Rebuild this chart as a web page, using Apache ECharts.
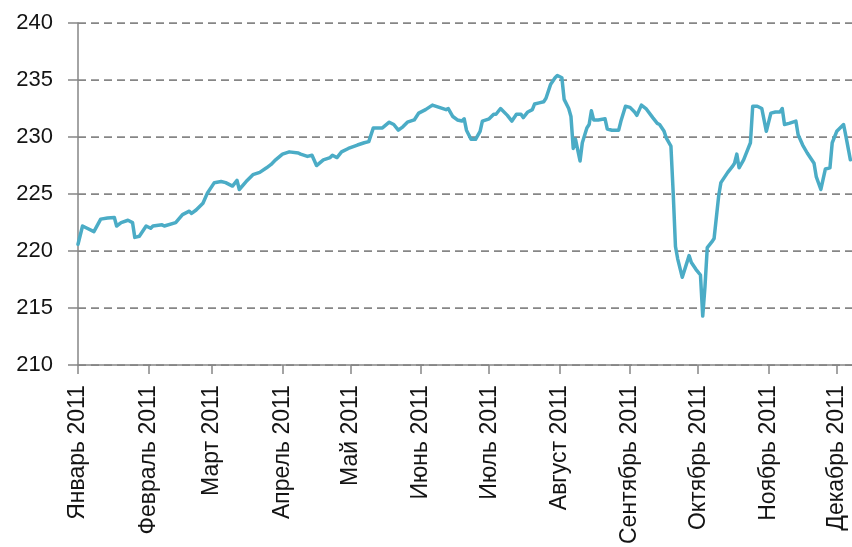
<!DOCTYPE html>
<html>
<head>
<meta charset="utf-8">
<title>2011</title>
<script src="https://cdn.jsdelivr.net/npm/echarts@6/dist/echarts.min.js"></script>
<style>
  html, body { margin: 0; padding: 0; background: #fff; }
  #chart { width: 852px; height: 547px; }
</style>
</head>
<body>
<div id="chart"></div>
<script>
// Daily closing values, 2011
const dates = [
  '2011-01-01','2011-01-03','2011-01-05','2011-01-08','2011-01-11','2011-01-14','2011-01-17','2011-01-18',
  '2011-01-20','2011-01-23','2011-01-25','2011-01-26','2011-01-28','2011-01-31','2011-02-02','2011-02-03',
  '2011-02-07','2011-02-08','2011-02-13','2011-02-16','2011-02-19','2011-02-20','2011-02-22','2011-02-25',
  '2011-02-27','2011-03-02','2011-03-05','2011-03-07','2011-03-10','2011-03-12','2011-03-13','2011-03-16',
  '2011-03-19','2011-03-22','2011-03-25','2011-03-27','2011-03-29','2011-04-01','2011-04-04','2011-04-08',
  '2011-04-09','2011-04-12','2011-04-14','2011-04-16','2011-04-19','2011-04-22','2011-04-23','2011-04-25',
  '2011-04-27','2011-04-30','2011-05-04','2011-05-07','2011-05-09','2011-05-11','2011-05-15','2011-05-18',
  '2011-05-20','2011-05-22','2011-05-24','2011-05-26','2011-05-29','2011-05-31','2011-06-03','2011-06-06',
  '2011-06-09','2011-06-12','2011-06-13','2011-06-15','2011-06-17','2011-06-19','2011-06-20','2011-06-21',
  '2011-06-23','2011-06-25','2011-06-27','2011-06-28','2011-07-01','2011-07-03','2011-07-04','2011-07-06',
  '2011-07-09','2011-07-11','2011-07-13','2011-07-15','2011-07-16','2011-07-18','2011-07-20','2011-07-21',
  '2011-07-23','2011-07-25','2011-07-26','2011-07-28','2011-07-30','2011-07-31','2011-08-02','2011-08-03',
  '2011-08-05','2011-08-06','2011-08-07','2011-08-08','2011-08-10','2011-08-11','2011-08-13','2011-08-14',
  '2011-08-15','2011-08-16','2011-08-18','2011-08-21','2011-08-22','2011-08-24','2011-08-27','2011-08-28',
  '2011-08-30','2011-09-01','2011-09-03','2011-09-04','2011-09-06','2011-09-08','2011-09-11','2011-09-13',
  '2011-09-14','2011-09-16','2011-09-17','2011-09-19','2011-09-20','2011-09-21','2011-09-22','2011-09-24',
  '2011-09-27','2011-09-28','2011-09-30','2011-10-02','2011-10-03','2011-10-04','2011-10-05','2011-10-07',
  '2011-10-08','2011-10-10','2011-10-11','2011-10-14','2011-10-16','2011-10-17','2011-10-18','2011-10-19',
  '2011-10-21','2011-10-22','2011-10-24','2011-10-25','2011-10-27','2011-10-29','2011-10-31','2011-11-02',
  '2011-11-04','2011-11-06','2011-11-07','2011-11-08','2011-11-10','2011-11-13','2011-11-14','2011-11-16',
  '2011-11-18','2011-11-21','2011-11-22','2011-11-24','2011-11-25','2011-11-26','2011-11-28','2011-11-29',
  '2011-12-01','2011-12-04','2011-12-05','2011-12-07'
];
const values = [
  220.6, 222.2, 222.0, 221.7, 222.8, 222.9, 222.95, 222.2,
  222.5, 222.7, 222.5, 221.2, 221.3, 222.2, 222.0, 222.2,
  222.3, 222.2, 222.5, 223.2, 223.5, 223.3, 223.6, 224.2,
  225.1, 226.0, 226.1, 226.0, 225.7, 226.2, 225.4, 226.1,
  226.7, 226.9, 227.3, 227.6, 228.0, 228.5, 228.7, 228.6,
  228.5, 228.3, 228.4, 227.5, 228.0, 228.2, 228.4, 228.2,
  228.7, 229.0, 229.3, 229.5, 229.6, 230.8, 230.8, 231.3,
  231.1, 230.6, 230.9, 231.3, 231.5, 232.1, 232.4, 232.8,
  232.6, 232.4, 232.5, 231.8, 231.5, 231.4, 231.6, 230.6,
  229.8, 229.8, 230.5, 231.4, 231.6, 232.0, 232.0, 232.5,
  231.9, 231.4, 232.0, 232.0, 231.7, 232.2, 232.4, 232.9,
  233.0, 233.1, 233.4, 234.6, 235.2, 235.4, 235.2, 233.3,
  232.5, 231.8, 229.0, 229.8, 227.9, 229.5, 230.8, 231.1,
  232.3, 231.5, 231.5, 231.6, 230.7, 230.6, 230.6, 231.4,
  232.7, 232.6, 232.2, 231.9, 232.8, 232.5, 231.7, 231.2,
  231.1, 230.5, 229.9, 229.2, 225.1, 220.4, 219.3, 217.7,
  219.6, 219.0, 218.4, 217.9, 214.3, 216.9, 220.3, 220.8,
  221.1, 224.8, 226.0, 226.9, 227.4, 227.7, 228.5, 227.3,
  228.0, 228.5, 229.5, 232.7, 232.7, 232.5, 230.5, 232.1,
  232.2, 232.2, 232.5, 231.1, 231.2, 231.4, 230.2, 229.3,
  228.6, 227.7, 226.5, 225.4, 226.3, 227.2, 227.3, 229.5,
  230.5, 231.1, 230.1, 228.0
];

// Month ticks along the date axis
const monthNames = ['Январь', 'Февраль', 'Март', 'Апрель', 'Май', 'Июнь',
                    'Июль', 'Август', 'Сентябрь', 'Октябрь', 'Ноябрь', 'Декабрь'];
const monthStarts = ['2011-01-01', '2011-02-01', '2011-03-01', '2011-04-01', '2011-05-01', '2011-06-01',
                     '2011-07-01', '2011-08-01', '2011-09-01', '2011-10-01', '2011-11-01', '2011-12-01'];
const axisStart = '2011-01-01';
const axisEnd = '2011-12-07T17:00';

// Value axis range
const yMin = 210;
const yMax = 240;
const yStep = 5;

function toTime(s) {
  const [d, t] = s.split('T');
  const [y, m, day] = d.split('-').map(Number);
  let h = 0;
  if (t) h = Number(t.split(':')[0]);
  return new Date(y, m - 1, day, h).getTime();
}

const seriesData = dates.map((d, i) => [toTime(d), values[i]]);
const monthTicks = monthStarts.map(toTime);

const gray = '#868686';
const textColor = '#141414';
const fontFamily = 'Liberation Sans, Arial, sans-serif';

const chart = echarts.init(document.getElementById('chart'), null, { renderer: 'canvas' });
chart.setOption({
  animation: false,
  backgroundColor: '#ffffff',
  grid: { left: 78, right: 0, top: 23, bottom: 181, containLabel: false },
  xAxis: {
    type: 'value',
    min: toTime(axisStart),
    max: toTime(axisEnd),
    axisLine: { show: true, lineStyle: { color: gray, width: 1.5 } },
    axisTick: {
      show: true, inside: false, length: 9,
      customValues: monthTicks,
      lineStyle: { color: gray, width: 1.5 }
    },
    axisLabel: {
      customValues: monthTicks,
      rotate: 90,
      margin: 20,
      color: textColor,
      fontSize: 23,
      fontFamily: fontFamily,
      hideOverlap: false,
      showMinLabel: true,
      showMaxLabel: true,
      formatter: function (v) {
        const dt = new Date(v);
        return monthNames[dt.getMonth()] + ' ' + dt.getFullYear();
      }
    },
    splitLine: { show: false }
  },
  yAxis: {
    type: 'value',
    min: yMin,
    max: yMax,
    interval: yStep,
    axisLine: { show: true, lineStyle: { color: gray, width: 1.5 } },
    axisTick: { show: true, inside: false, length: 10, lineStyle: { color: gray, width: 1.5 } },
    axisLabel: {
      margin: 25,
      color: textColor,
      fontSize: 22,
      fontFamily: fontFamily
    },
    splitLine: {
      show: true,
      lineStyle: { color: gray, width: 1.75, type: [8, 5] }
    }
  },
  series: [{
    type: 'line',
    data: seriesData,
    showSymbol: false,
    symbol: 'none',
    smooth: false,
    lineStyle: { color: '#4bacc6', width: 3.5, join: 'round', cap: 'round' },
    itemStyle: { color: '#4bacc6' }
  }]
});
</script>
</body>
</html>
